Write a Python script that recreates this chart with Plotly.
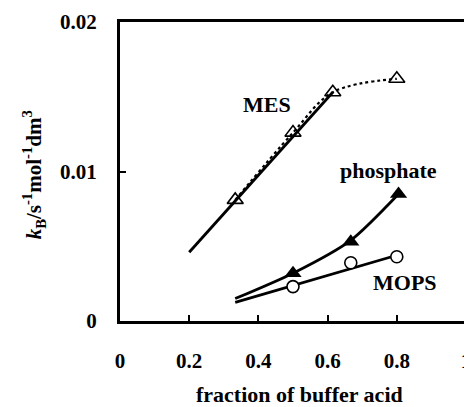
import plotly.graph_objects as go

# Data
mes_x = [0.333, 0.50, 0.615, 0.80]
mes_y = [0.0081, 0.0126, 0.0153, 0.0162]
mes_fit_x = [0.20, 0.615]
mes_fit_y = [0.0046, 0.0153]

phos_x = [0.50, 0.667, 0.805]
phos_y = [0.0032, 0.0053, 0.0085]
phos_fit_x = [0.333, 0.50, 0.667, 0.805]
phos_fit_y = [0.00150, 0.00320, 0.0054, 0.0085]

mops_x = [0.50, 0.667, 0.80]
mops_y = [0.0023, 0.0039, 0.0043]
mops_fit_x = [0.333, 0.80]
mops_fit_y = [0.00125, 0.0044]

x_ticks = [0, 0.2, 0.4, 0.6, 0.8, 1]
x_tick_labels = ["0", "0.2", "0.4", "0.6", "0.8", "1"]
y_ticks = [0, 0.01, 0.02]
y_tick_labels = ["0", "0.01", "0.02"]

FONT = "Liberation Serif"

fig = go.Figure()

fig.add_trace(go.Scatter(x=mes_x, y=mes_y, mode="lines",
                         line=dict(color="black", width=2.2, dash="dot", shape="spline"),
                         showlegend=False))
fig.add_trace(go.Scatter(x=mes_fit_x, y=mes_fit_y, mode="lines",
                         line=dict(color="black", width=2.8), showlegend=False))
fig.add_trace(go.Scatter(x=mes_x, y=mes_y, mode="markers",
                         marker=dict(symbol="triangle-up-open", size=14, color="black",
                                     line=dict(width=1.6, color="black")),
                         showlegend=False))

fig.add_trace(go.Scatter(x=phos_fit_x, y=phos_fit_y, mode="lines",
                         line=dict(color="black", width=2.8, shape="spline", smoothing=0.7),
                         showlegend=False))
fig.add_trace(go.Scatter(x=phos_x, y=phos_y, mode="markers",
                         marker=dict(symbol="triangle-up", size=15, color="black"),
                         showlegend=False))

fig.add_trace(go.Scatter(x=mops_fit_x, y=mops_fit_y, mode="lines",
                         line=dict(color="black", width=2.8), showlegend=False))
fig.add_trace(go.Scatter(x=mops_x, y=mops_y, mode="markers",
                         marker=dict(symbol="circle", size=12, color="white",
                                     line=dict(width=1.6, color="black")),
                         showlegend=False))

axis_common = dict(showline=True, linecolor="black", linewidth=3, mirror=True,
                   ticks="inside", ticklen=6, tickwidth=1.5, tickcolor="black",
                   showgrid=False, zeroline=False, automargin=False,
                   tickfont=dict(family=FONT, size=21, color="black", weight="bold"))

fig.update_xaxes(range=[0, 1], tickvals=x_ticks, ticktext=x_tick_labels,
                 ticklabelstandoff=19, **axis_common)
fig.update_yaxes(range=[0, 0.02], tickvals=y_ticks, ticktext=y_tick_labels,
                 ticklabelstandoff=16, **axis_common)

label_font = dict(family=FONT, size=22, color="black", weight="bold")
fig.add_annotation(x=0.425, y=0.0145, text="MES", showarrow=False, font=label_font)
fig.add_annotation(x=0.777, y=0.0101, text="phosphate", showarrow=False, font=label_font)
fig.add_annotation(x=0.824, y=0.00255, text="MOPS", showarrow=False, font=label_font)

fig.add_annotation(xref="paper", yref="paper", x=0.52, y=-0.245, yanchor="middle",
                   text="fraction of buffer acid", showarrow=False,
                   font=dict(family=FONT, size=22, color="black", weight="bold"))
fig.add_annotation(xref="paper", yref="paper", x=-0.249, y=0.49, xanchor="center",
                   yanchor="middle", textangle=-90,
                   text="<i>k</i><sub>B</sub>/s<sup>-1</sup>mol<sup>-1</sup>dm<sup>3</sup>",
                   showarrow=False,
                   font=dict(family=FONT, size=21, color="black", weight="bold"))

# the page adds an 8 px body margin, so the figure is drawn 8 px smaller
fig.update_layout(width=464, height=399, margin=dict(l=112, r=6, t=14, b=86),
                  plot_bgcolor="white", paper_bgcolor="white")

fig.write_html("out.html")
